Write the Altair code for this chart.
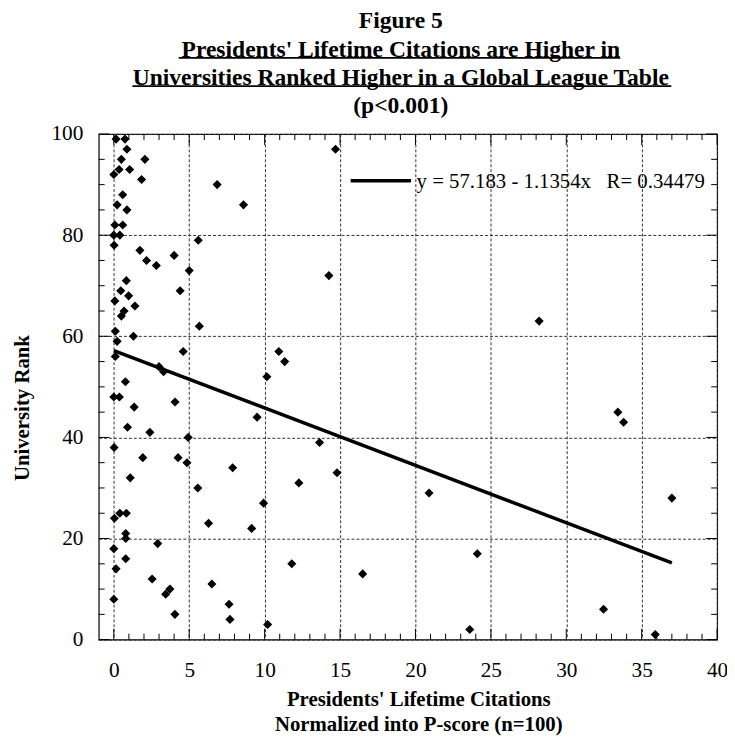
import altair as alt
import pandas as pd

# ---------------- data ----------------
citations = [
    0.15, 0.74, 0.87, 0.5, 2.06, 0.35, 1.05, 0.0, 1.84, 0.59,
    0.22, 0.87, 0.07, 0.59, 0.0, 0.4, 0.02, 5.6, 1.73, 2.17,
    2.82, 4.0, 5.0, 0.83, 4.4, 0.46, 0.98, 0.07, 1.4, 0.68,
    0.5, 5.67, 0.1, 1.3, 0.22, 4.6, 0.1, 3.0, 3.3, 0.77,
    14.7, 6.85, 8.6, 14.26, 10.94, 11.33, 10.15,
    0.0, 0.37, 4.06, 1.35, 0.91, 2.39, 4.93, 0.02, 1.92, 4.26,
    4.85, 1.09, 5.57, 0.04, 0.4, 0.83, 0.79, 0.79, 2.91, 0.0,
    0.79, 0.15, 2.54, 3.72, 3.44, 0.0, 4.05,
    9.5, 13.64, 7.88, 14.8, 12.27, 20.9, 9.93, 6.28, 9.14, 24.1,
    11.8, 16.5, 6.5, 7.64, 7.7, 10.2, 23.6,
    33.42, 33.8, 37.0, 32.47, 35.9, 28.2,
]
ranks = [
    99, 99, 97, 95, 95, 93, 93, 92, 91, 88,
    86, 85, 82, 82, 80, 80, 78, 79, 77, 75,
    74, 76, 73, 71, 69, 69, 68, 67, 66, 65,
    64, 62, 61, 60, 59, 57, 56, 54, 53, 51,
    97, 90, 86, 72, 57, 55, 52,
    48, 48, 47, 46, 42, 41, 40, 38, 36, 36,
    35, 32, 30, 24, 25, 25, 21, 20, 19, 18,
    16, 14, 12, 10, 9, 8, 5,
    44, 39, 34, 33, 31, 29, 27, 23, 22, 17,
    15, 13, 11, 7, 4, 3, 2,
    45, 43, 28, 6, 1, 63,
]

INTERCEPT = 57.183
SLOPE = -1.1354
R_VALUE = 0.34479

title_lines = [
    "Figure 5",
    "Presidents' Lifetime Citations are Higher in ",
    "Universities Ranked Higher in a Global League Table",
    "(p<0.001)",
]
x_title = ["Presidents' Lifetime Citations", "Normalized into P-score (n=100)"]
y_title = "University Rank"
legend_text = "y = 57.183 - 1.1354x\u00a0\u00a0\u00a0R= 0.34479"

x_major = [0, 5, 10, 15, 20, 25, 30, 35, 40]
y_major = [0, 20, 40, 60, 80, 100]
x_minor = [v for v in range(0, 40) if v % 5 != 0]
y_minor = [v for v in range(5, 100, 5) if v % 20 != 0]

# ---------------- layout ----------------
W, H = 625, 511
SERIF = "Liberation Serif"
MAJOR, MINOR = 11, 6

df = pd.DataFrame({"x": citations, "y": ranks})
x0, x1 = min(citations), max(citations)
df_fit = pd.DataFrame({"x": [x0, x1], "y": [INTERCEPT + SLOPE * x0, INTERCEPT + SLOPE * x1]})

xscale = alt.Scale(domain=[-1, 40], nice=False, zero=False)
yscale = alt.Scale(domain=[0, 100], nice=False, zero=False)

xaxis = alt.Axis(
    values=x_major, grid=True, gridDash=[3, 2], gridColor="#333333", gridWidth=1,
    ticks=False, domain=False, labelFont=SERIF, labelFontSize=21.5, labelColor="black",
    labelPadding=20.5, labelFlush=False, labelOverlap=False,
    title=x_title, titleFont=SERIF, titleFontSize=21, titleFontWeight="bold",
    titleColor="black", titleX=323, titleY=49.3, titleBaseline="top",
    titleAlign="center", titleLineHeight=26,
)
yaxis = alt.Axis(
    values=y_major, grid=True, gridDash=[3, 2], gridColor="#333333", gridWidth=1,
    ticks=False, domain=False, labelFont=SERIF, labelFontSize=21.5, labelColor="black",
    labelPadding=16, labelFlush=False, labelOverlap=False,
    title=y_title, titleFont=SERIF, titleFontSize=21, titleFontWeight="bold",
    titleColor="black", titleAngle=270, titleX=-77.2, titleY=276.5,
    titleBaseline="middle", titleAlign="center",
)

X = lambda f: alt.X(f, type="quantitative", scale=xscale, axis=xaxis)
Y = lambda f: alt.Y(f, type="quantitative", scale=yscale, axis=yaxis)


def xticks(values, size):
    base = alt.Chart(pd.DataFrame({"v": values}))
    bottom = base.mark_rule(color="black", strokeWidth=1).encode(
        x=X("v"), y=alt.value(H), y2=alt.value(H - size))
    top = base.mark_rule(color="black", strokeWidth=1).encode(
        x=X("v"), y=alt.value(0), y2=alt.value(size))
    return [bottom, top]


def yticks(values, size):
    base = alt.Chart(pd.DataFrame({"v": values}))
    left = base.mark_rule(color="black", strokeWidth=1).encode(
        y=Y("v"), x=alt.value(0), x2=alt.value(size))
    right = base.mark_rule(color="black", strokeWidth=1).encode(
        y=Y("v"), x=alt.value(W), x2=alt.value(W - size))
    return [left, right]


points = alt.Chart(df).mark_point(
    shape="diamond", filled=True, color="black", size=85, opacity=1, strokeWidth=0
).encode(x=X("x"), y=Y("y"))

fit = alt.Chart(df_fit).mark_line(color="black", strokeWidth=3.5).encode(x=X("x"), y=Y("y"))

one = pd.DataFrame({"k": [0]})
legend_line = alt.Chart(one).mark_rule(color="black", strokeWidth=3.5).encode(
    x=alt.value(254.6), x2=alt.value(315.6), y=alt.value(47.1))
legend_label = alt.Chart(one).mark_text(
    text=legend_text, font=SERIF, fontSize=21, color="black", align="left", baseline="middle"
).encode(x=alt.value(321.3), y=alt.value(48.5))

title_text = alt.Chart(one).mark_text(
    text=title_lines, font=SERIF, fontSize=23.8, fontWeight="bold", color="black",
    align="center", baseline="alphabetic", lineHeight=28.5
).encode(x=alt.value(305.3), y=alt.value(-106.8))
underline2 = alt.Chart(one).mark_rule(color="black", strokeWidth=1.8).encode(
    x=alt.value(80.8), x2=alt.value(527.1), y=alt.value(-77))
underline3 = alt.Chart(one).mark_rule(color="black", strokeWidth=1.8).encode(
    x=alt.value(34.1), x2=alt.value(578.7), y=alt.value(-48.5))

layers = (xticks(x_major, MAJOR) + xticks(x_minor, MINOR)
          + yticks(y_major, MAJOR) + yticks(y_minor, MINOR)
          + [fit, points, legend_line, legend_label, title_text, underline2, underline3])

chart = alt.layer(*layers).properties(
    width=W, height=H,
    padding={"left": 91.7, "top": 123.5, "right": 10, "bottom": 95},
    autosize=alt.AutoSizeParams(type="none"),
    background="white",
).configure_view(stroke="black", strokeWidth=1.2)

chart.save("out.html", embed_options={"renderer": "svg", "actions": False})
